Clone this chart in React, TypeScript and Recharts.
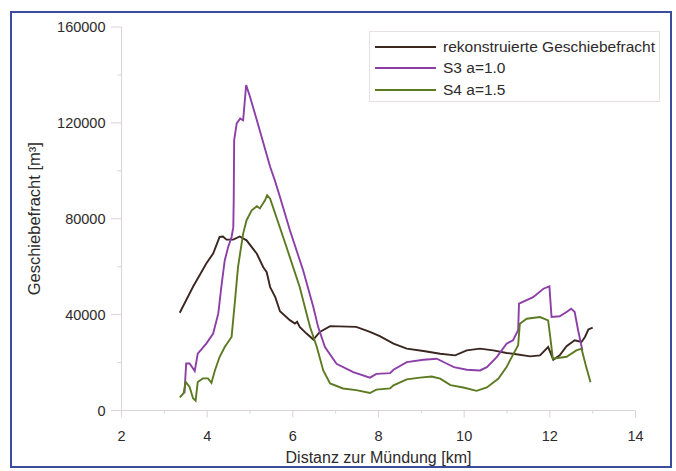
import { LineChart, Line, XAxis, YAxis, Legend } from 'recharts'

// Kilometre positions and loads
const rekoKm = [3.36, 3.67, 3.98, 4.14, 4.29, 4.37, 4.45, 4.61, 4.76, 4.92, 5.16, 5.31, 5.39, 5.47, 5.59, 5.7, 5.93, 6.05, 6.1, 6.16, 6.32, 6.48, 6.63, 6.87, 7.48, 7.8, 8.03, 8.35, 8.66, 9.05, 9.44, 9.79, 10.06, 10.37, 10.68, 10.99, 11.14, 11.54, 11.77, 11.96, 12.08, 12.23, 12.39, 12.58, 12.74, 12.82, 12.9, 13.0]
const rekoVal = [40800, 51600, 61300, 65500, 72400, 72600, 71300, 71300, 72600, 71000, 65400, 59800, 57700, 51500, 47300, 41400, 37700, 36300, 37000, 34900, 32100, 29600, 32800, 35200, 34900, 32800, 31000, 27900, 25800, 24800, 23700, 23000, 25100, 25800, 25100, 24000, 23700, 22600, 23000, 26500, 21200, 23000, 26800, 29300, 28600, 30700, 33800, 34600]

const s3Km = [3.47, 3.51, 3.59, 3.71, 3.78, 3.98, 4.14, 4.26, 4.33, 4.41, 4.49, 4.57, 4.61, 4.62, 4.63, 4.69, 4.77, 4.84, 4.91, 5.0, 5.16, 5.47, 5.58, 5.7, 5.93, 6.24, 6.48, 6.59, 6.75, 7.02, 7.41, 7.8, 7.95, 8.27, 8.35, 8.66, 9.05, 9.36, 9.6, 9.76, 10.06, 10.37, 10.53, 10.76, 10.99, 11.14, 11.26, 11.28, 11.61, 11.85, 11.99, 12.04, 12.23, 12.39, 12.5, 12.58, 12.66, 12.76]
const s3Val = [7200, 19600, 19600, 16500, 23700, 27900, 32100, 40500, 51500, 62600, 68200, 72400, 76500, 87700, 112700, 119800, 121800, 121100, 135800, 130900, 121100, 101700, 96000, 89100, 75300, 58500, 43100, 34900, 26500, 19500, 16000, 13700, 15300, 15600, 17000, 20200, 21200, 21600, 19500, 18100, 17000, 16700, 18100, 22300, 27900, 29300, 33500, 44600, 47300, 50800, 51800, 39000, 39300, 41100, 42500, 41100, 33500, 25100]

const s4Km = [3.36, 3.45, 3.5, 3.59, 3.67, 3.73, 3.78, 3.9, 4.02, 4.1, 4.18, 4.29, 4.41, 4.57, 4.65, 4.72, 4.84, 4.92, 5.04, 5.16, 5.23, 5.35, 5.4, 5.47, 5.85, 6.16, 6.4, 6.56, 6.71, 6.87, 7.17, 7.48, 7.8, 7.95, 8.27, 8.35, 8.66, 8.97, 9.24, 9.44, 9.68, 9.98, 10.29, 10.53, 10.8, 10.99, 11.07, 11.26, 11.3, 11.46, 11.77, 11.96, 12.01, 12.07, 12.23, 12.39, 12.62, 12.74, 12.85, 12.95]
const s4Val = [5500, 7200, 11900, 9800, 5100, 4100, 11900, 13400, 13400, 11500, 16700, 22300, 26500, 30700, 45900, 59800, 73800, 79400, 83500, 85200, 84300, 87700, 89800, 88400, 68300, 51500, 34900, 26500, 16700, 11300, 9200, 8500, 7300, 8700, 9200, 10500, 13000, 13700, 14200, 13300, 10600, 9600, 8200, 9600, 13300, 18100, 20900, 27200, 36200, 38300, 39000, 37600, 30600, 21600, 22000, 22400, 25100, 25800, 18100, 11800]

const kmTicks = [2, 3, 4, 5, 6, 7, 8, 9, 10, 11, 12, 13, 14]
const loadTicks = [0, 20000, 40000, 60000, 80000, 100000, 120000, 140000, 160000]

const series = [
  { name: 'rekonstruierte Geschiebefracht', color: '#3b2620', km: rekoKm, val: rekoVal },
  { name: 'S3 a=1.0', color: '#8c3fa6', km: s3Km, val: s3Val },
  { name: 'S4 a=1.5', color: '#5c7a22', km: s4Km, val: s4Val },
]

const toPoints = (km: number[], val: number[]) => km.map((k, i) => ({ km: k, v: val[i] }))

const FONT = '"Liberation Sans", Arial, sans-serif'
const AXIS_COLOR = '#ddd2d6'
const TEXT = '#2e2a2a'

const XTick = (props: any) => {
  const { x, y, payload } = props
  const axisY = y - 8
  const major = payload.value % 2 === 0
  return (
    <g>
      <line x1={x} x2={x} y1={axisY} y2={axisY + (major ? 7 : 3)} stroke={AXIS_COLOR} />
      {major && (
        <text x={x} y={axisY + 30} textAnchor="middle" fontSize={14.5} fill={TEXT} fontFamily={FONT}>
          {payload.value}
        </text>
      )}
    </g>
  )
}

const YTick = (props: any) => {
  const { x, y, payload } = props
  const axisX = x + 10
  const major = payload.value % 40000 === 0
  return (
    <g>
      <line x1={axisX - (major ? 10.5 : 4)} x2={axisX} y1={y} y2={y} stroke={AXIS_COLOR} />
      {major && (
        <text x={axisX - 16} y={y} dy="0.35em" textAnchor="end" fontSize={14.5} fill={TEXT} fontFamily={FONT}>
          {payload.value}
        </text>
      )}
    </g>
  )
}

const LegendBox = () => (
  <div
    style={{
      width: 291,
      height: 71,
      border: '1px solid #e6e0e2',
      boxSizing: 'border-box',
      paddingTop: 4,
      fontFamily: FONT,
      fontSize: 15.5,
      color: TEXT,
    }}
  >
    {series.map((s) => (
      <div key={s.name} style={{ display: 'flex', alignItems: 'center', height: 21.5 }}>
        <svg width={68} height={10} style={{ marginLeft: 5 }}>
          <line x1={0} x2={61} y1={5} y2={5} stroke={s.color} strokeWidth={1.8} />
        </svg>
        <span>{s.name}</span>
      </div>
    ))}
  </div>
)

export default function App() {
  return (
    <div style={{ position: 'absolute', left: 0, top: 0, width: 676, height: 471, background: '#fff', fontFamily: FONT }}>
      <div
        style={{
          position: 'absolute',
          left: 10,
          top: 11,
          width: 662,
          height: 457,
          border: '2px solid #3a4c9c',
          boxSizing: 'border-box',
        }}
      />
      <div style={{ position: 'absolute', left: 0, top: 0 }}>
        <LineChart width={676} height={471} margin={{ top: 27, right: 40.5, left: 0, bottom: 0 }}>
          <XAxis
            dataKey="km"
            type="number"
            domain={[2, 14]}
            ticks={kmTicks}
            interval={0}
            height={60.5}
            tickSize={8}
            tickMargin={0}
            tickLine={false}
            tick={<XTick />}
            axisLine={{ stroke: AXIS_COLOR }}
            allowDuplicatedCategory={false}
            label={{
              value: 'Distanz zur Mündung [km]',
              position: 'insideBottom',
              offset: 8,
              style: { fontSize: 16, fill: TEXT, fontFamily: FONT },
            }}
          />
          <YAxis
            type="number"
            domain={[0, 160000]}
            ticks={loadTicks}
            interval={0}
            width={121.5}
            tickSize={6}
            tickMargin={4}
            tickLine={false}
            tick={<YTick />}
            axisLine={{ stroke: AXIS_COLOR }}
            label={{
              value: 'Geschiebefracht [m³]',
              angle: -90,
              position: 'insideLeft',
              offset: 34,
              style: { fontSize: 16.5, fill: TEXT, fontFamily: FONT, textAnchor: 'middle' },
            }}
          />
          <Legend
            layout="vertical"
            align="center"
            verticalAlign="middle"
            content={<LegendBox />}
            wrapperStyle={{ left: 369, top: 31, width: 291, height: 71 }}
          />
          {series.map((s) => (
            <Line
              key={s.name}
              data={toPoints(s.km, s.val)}
              dataKey="v"
              name={s.name}
              type="linear"
              stroke={s.color}
              strokeWidth={1.9}
              dot={false}
              activeDot={false}
              isAnimationActive={false}
            />
          ))}
        </LineChart>
      </div>
    </div>
  )
}
